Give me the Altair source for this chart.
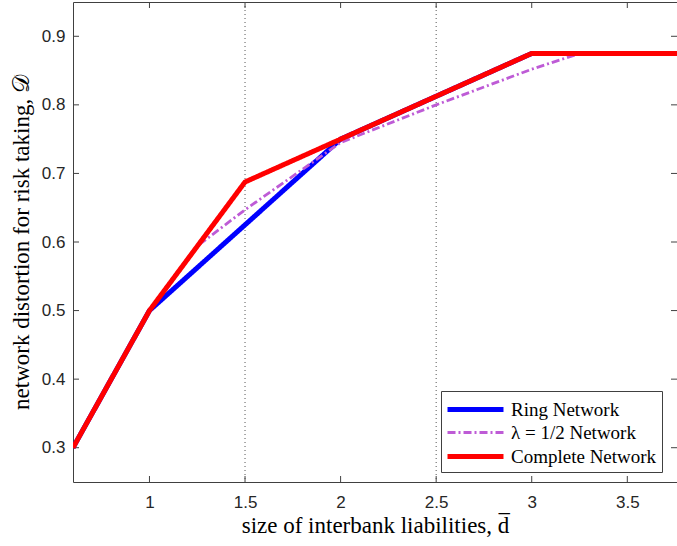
import altair as alt
import pandas as pd

# Data
series_names = ["Ring Network", "λ = 1/2 Network", "Complete Network"]

ring_x = [0.6, 1.0, 2.0, 3.0, 3.76]
ring_y = [0.3, 0.5, 0.75, 0.875, 0.875]

lam_x = [0.6, 1.0, 1.25, 1.5, 2.0, 2.5, 3.0, 3.25, 3.76]
lam_y = [0.3, 0.5, 0.594, 0.647, 0.745, 0.8, 0.852, 0.875, 0.875]

comp_x = [0.6, 1.0, 1.5, 2.0, 3.0, 3.76]
comp_y = [0.3, 0.5, 0.6875, 0.75, 0.875, 0.875]

x_ticks = [1, 1.5, 2, 2.5, 3, 3.5]
y_ticks = [0.3, 0.4, 0.5, 0.6, 0.7, 0.8, 0.9]
v_lines = [1.5, 2.5]

x_domain = [0.6, 3.76]
y_domain = [0.25, 0.95]

rows = []
for name, xs, ys in zip(series_names, [ring_x, lam_x, comp_x], [ring_y, lam_y, comp_y]):
    for i, (a, b) in enumerate(zip(xs, ys)):
        rows.append({"series": name, "x": a, "y": b, "i": i})
df = pd.DataFrame(rows)

xt = pd.DataFrame({"v": x_ticks})
yt = pd.DataFrame({"v": y_ticks})
vl = pd.DataFrame({"v": v_lines})

W, H = 604, 480
axis_col = "#404040"
serif = "Liberation Serif"
sans = "Liberation Sans"

xscale = alt.Scale(domain=x_domain, nice=False, zero=False)
yscale = alt.Scale(domain=y_domain, nice=False, zero=False)

xa = alt.Axis(values=x_ticks, domain=False, ticks=False, grid=False,
              format="~g",
              labelFont=sans, labelFontSize=17, labelColor="#262626",
              labelPadding=12, title="size of interbank liabilities, d\u0305",
              titleFont=serif, titleFontSize=23, titleFontWeight="normal",
              titleColor="#000", titlePadding=4)
ya = alt.Axis(values=y_ticks, domain=False, ticks=False, grid=False,
              format=".1f",
              labelFont=sans, labelFontSize=17, labelColor="#262626",
              labelPadding=8,
              title="network distortion for risk taking, 𝒟",
              titleFont=serif, titleFontSize=23, titleFontWeight="normal",
              titleColor="#000", titlePadding=8)

color_scale = alt.Scale(domain=series_names, range=["#0000FF", "#BE5BD6", "#FF0000"])
dash_scale = alt.Scale(domain=series_names, range=[[1, 0], [8, 3, 2, 3], [1, 0]])
width_scale = alt.Scale(type="ordinal", domain=series_names, range=[5, 2.8, 5])

legend = alt.Legend(
    title=None, orient="none", legendX=368, legendY=389,
    symbolType="M-2.545,0H2.545", symbolSize=484, symbolOffset=16,
    symbolFillColor="transparent",
    labelOffset=22,
    labelFont=serif, labelFontSize=19, labelColor="#000",
    fillColor="white", strokeColor=axis_col, padding=5,
    rowPadding=0, cornerRadius=0,
)

def line_layer(name):
    return alt.Chart(df).transform_filter(alt.datum.series == name).mark_line(
        strokeCap="butt", strokeJoin="miter", clip=True
    ).encode(
        x=alt.X("x:Q", scale=xscale, axis=xa),
        y=alt.Y("y:Q", scale=yscale, axis=ya),
        order="i:Q",
        color=alt.Color("series:N", scale=color_scale, legend=legend),
        strokeDash=alt.StrokeDash("series:N", scale=dash_scale, legend=legend),
        strokeWidth=alt.StrokeWidth("series:N", scale=width_scale, legend=legend),
    )

vlines = alt.Chart(vl).mark_rule(color="#555555", strokeDash=[1, 3], strokeWidth=1).encode(
    x=alt.X("v:Q", scale=xscale, axis=xa)
)

tick_len = 6
bottom_ticks = alt.Chart(xt).mark_rule(color=axis_col).encode(
    x=alt.X("v:Q", scale=xscale, axis=xa), y=alt.value(H), y2=alt.value(H - tick_len))
top_ticks = alt.Chart(xt).mark_rule(color=axis_col).encode(
    x=alt.X("v:Q", scale=xscale, axis=xa), y=alt.value(0), y2=alt.value(tick_len))
left_ticks = alt.Chart(yt).mark_rule(color=axis_col).encode(
    y=alt.Y("v:Q", scale=yscale, axis=ya), x=alt.value(0), x2=alt.value(tick_len))
right_ticks = alt.Chart(yt).mark_rule(color=axis_col).encode(
    y=alt.Y("v:Q", scale=yscale, axis=ya), x=alt.value(W), x2=alt.value(W - tick_len))

chart = alt.layer(
    vlines, bottom_ticks, top_ticks, left_ticks, right_ticks,
    line_layer("Ring Network"),
    line_layer("λ = 1/2 Network"),
    line_layer("Complete Network"),
).properties(
    width=W, height=H,
    autosize=alt.AutoSizeParams(type="none"),
    padding={"left": 73, "top": 2, "right": 0, "bottom": 64},
    background="white",
).configure_view(stroke=axis_col, strokeWidth=1)

chart.save("out.html", embed_options={"renderer": "svg", "actions": False})
